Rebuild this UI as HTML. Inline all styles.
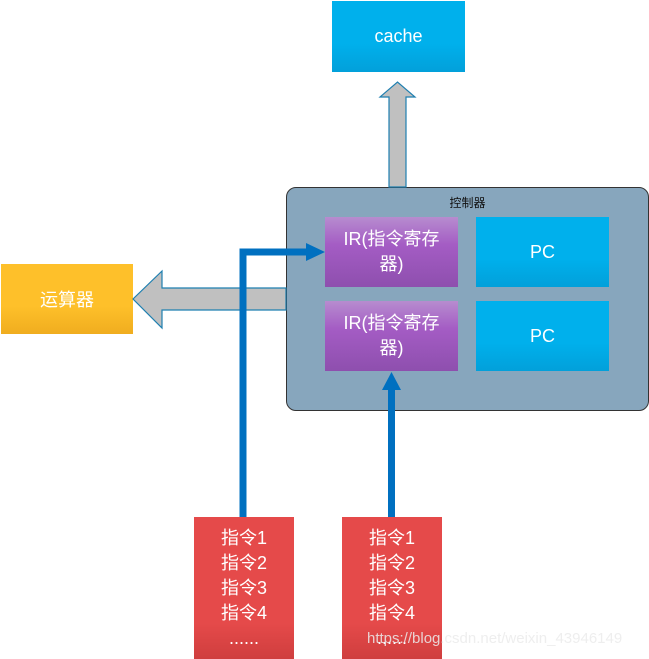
<!DOCTYPE html>
<html><head><meta charset="utf-8"><style>
body{margin:0;width:649px;height:659px;background:#fff;position:relative;overflow:hidden;font-family:"Liberation Sans","Noto Sans CJK SC",sans-serif}
.b{position:absolute;color:#fff;display:flex;align-items:center;justify-content:center;text-align:center}
.cy{background:linear-gradient(#00b0ec 60%,#02a0da)}
.pu{background:linear-gradient(#b78ccf,#a45cc4 40%,#8e4fae);font-size:18px;line-height:25px}
.rd{background:linear-gradient(#e54a4a 75%,#cf3e3e);font-size:18px;line-height:25px;flex-direction:column}
</style></head><body>
<div class="b cy" style="left:332px;top:1px;width:133px;height:71px;font-size:18px">cache</div>
<div class="b" style="left:1px;top:264px;width:132px;height:70px;background:linear-gradient(#fec02a 60%,#f0ad1f);font-size:18px">运算器</div>
<div style="position:absolute;left:286px;top:187px;width:361px;height:222px;background:#87a6bd;border:1px solid #333;border-radius:10px"></div>
<div style="position:absolute;left:286px;top:194px;width:363px;text-align:center;font-size:12px;color:#111">控制器</div>
<div class="b pu" style="left:325px;top:217px;width:133px;height:70px">IR(指令寄存<br>器)</div>
<div class="b pu" style="left:325px;top:301px;width:133px;height:70px">IR(指令寄存<br>器)</div>
<div class="b cy" style="left:476px;top:217px;width:133px;height:70px;font-size:18px">PC</div>
<div class="b cy" style="left:476px;top:301px;width:133px;height:70px;font-size:18px">PC</div>
<svg width="649" height="659" style="position:absolute;left:0;top:0">
<polygon points="389,187 389,97 380,97 397.5,82 415,97 406,97 406,187" fill="#c0c0c0" stroke="#1e7fb0" stroke-width="1.2"/>
<polygon points="286,288 162,288 162,271 133,299 162,328 162,310 286,310" fill="#c0c0c0" stroke="#1e7fb0" stroke-width="1.2"/>
<polyline points="243,517 243,252 308,252" fill="none" stroke="#0070c0" stroke-width="7"/>
<polygon points="306,243 325,252 306,261" fill="#0070c0"/>
<line x1="391.5" y1="517" x2="391.5" y2="388" stroke="#0070c0" stroke-width="7"/>
<polygon points="382,390 391.5,372 401,390" fill="#0070c0"/>
</svg>
<div class="b rd" style="left:194px;top:517px;width:100px;height:142px"><div>指令1</div><div>指令2</div><div>指令3</div><div>指令4</div><div>......</div></div>
<div class="b rd" style="left:342px;top:517px;width:100px;height:142px"><div>指令1</div><div>指令2</div><div>指令3</div><div>指令4</div><div>......</div></div>
<div style="position:absolute;left:367px;top:630px;font-size:15px;color:rgba(235,235,235,0.85)">https://blog.csdn.net/weixin_43946149</div>
</body></html>
